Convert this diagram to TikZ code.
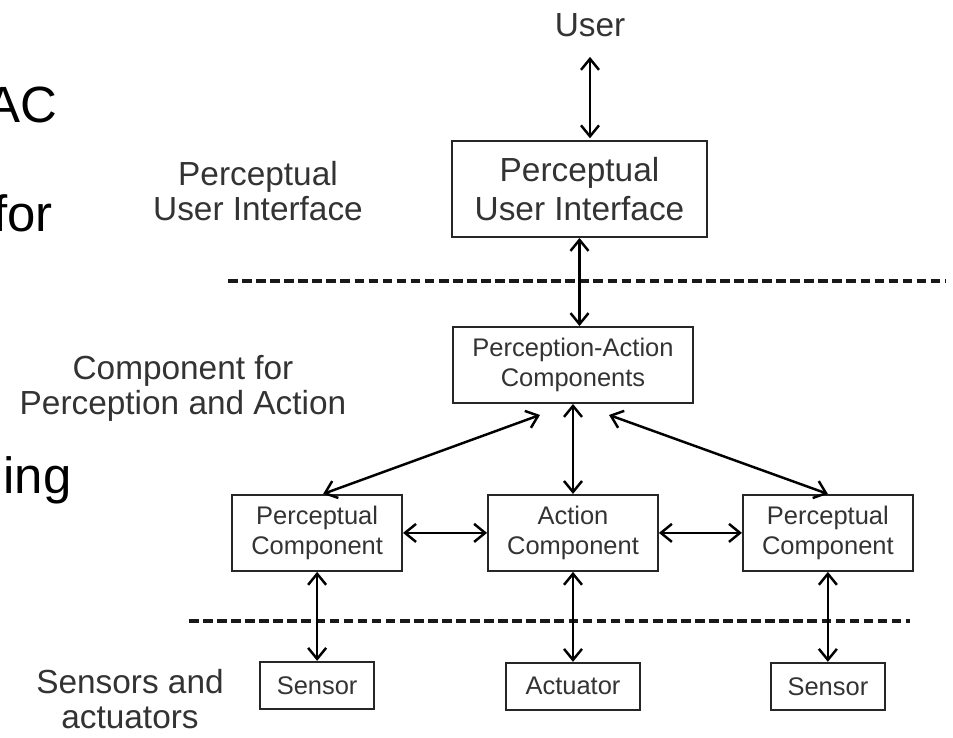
\documentclass[tikz,border=0pt]{standalone}
\usepackage{fontspec}
\setmainfont{Liberation Sans}
\usetikzlibrary{arrows.meta, positioning}

\begin{document}
\begin{tikzpicture}[
    x=0.02cm, y=-0.02cm,
    box/.style={rectangle, draw=black!85, line width=1.1pt, inner sep=0pt, align=center, text=black!80},
    bigbox/.style={box, minimum width=5.1cm, minimum height=1.92cm, font=\fontsize{19}{22}\selectfont},
    smallbox/.style={box, minimum width=3.4cm, minimum height=1.52cm, font=\fontsize{14.5}{17}\selectfont},
    iobox/.style={box, minimum width=2.28cm, minimum height=0.94cm, font=\fontsize{14.5}{17}\selectfont},
    sidetext/.style={align=center, text=black!80, font=\fontsize{19}{20}\selectfont},
    slide/.style={anchor=base east, inner sep=0pt, font=\fontsize{29}{34}\selectfont},
    arrow/.style={line width=1.4pt, {Straight Barb[length=0.22cm, width=0.36cm]}-{Straight Barb[length=0.22cm, width=0.36cm]}},
    layer/.style={line width=2pt, dash pattern=on 5.5pt off 2.5pt, black!90},
]
    \useasboundingbox (0,0) rectangle (953,737);

    % Slide text behind the figure
    \node[slide] (ac) at (58,122) {AC};
    \node[slide] (for) at (53,231) {for};
    \node[slide] (ing) at (72,493) {ing};

    % Layers
    \node[sidetext] (user) at (590,25) {User};
    \node[bigbox] (pui) at (579.5,189) {Perceptual\\User Interface};
    \node[sidetext] (puilabel) at (258,191) {Perceptual\\User Interface};
    \node[smallbox, minimum width=4.8cm] (pac) at (573,365) {Perception-Action\\Components};
    \node[sidetext] (paclabel) at (183,388) {Component for\\Perception and Action};
    \node[smallbox, below=1.8cm of pac] (action) {Action\\Component};
    \node[smallbox, left=1.68cm of action] (lpc) {Perceptual\\Component};
    \node[smallbox, right=1.66cm of action] (rpc) {Perceptual\\Component};
    \node[iobox, below=1.78cm of lpc] (lsensor) {Sensor};
    \node[iobox, below=1.8cm of action, minimum width=2.68cm] (actuator) {Actuator};
    \node[iobox, below=1.8cm of rpc] (rsensor) {Sensor};
    \node[sidetext] (iolabel) at (130,699) {Sensors and\\actuators};

    % Dashed separators
    \coordinate (upL) at (228,281);
    \coordinate (upR) at (945,281);
    \coordinate (loL) at (189,621);
    \coordinate (loR) at (910,621);
    \draw[layer] (upL) -- (upR);
    \draw[layer] (loL) -- (loR);

    % Connect everything
    \draw[arrow, shorten <=8pt, shorten >=1pt] (user) -- (user |- pui.north);
    \draw[arrow] (pui) -- (pui |- pac.north);
    \draw[arrow] (pac) -- (action);
    \draw[arrow] ([xshift=-0.66cm, yshift=-0.22cm]pac.south) -- ([xshift=0.12cm]lpc.north);
    \draw[arrow] ([xshift=0.72cm, yshift=-0.22cm]pac.south) -- (rpc.north);
    \draw[arrow] (lpc) -- (action);
    \draw[arrow] (action) -- (rpc);
    \draw[arrow] (lpc) -- (lsensor);
    \draw[arrow] (action) -- (actuator);
    \draw[arrow] (rpc) -- (rsensor);
\end{tikzpicture}
\end{document}
